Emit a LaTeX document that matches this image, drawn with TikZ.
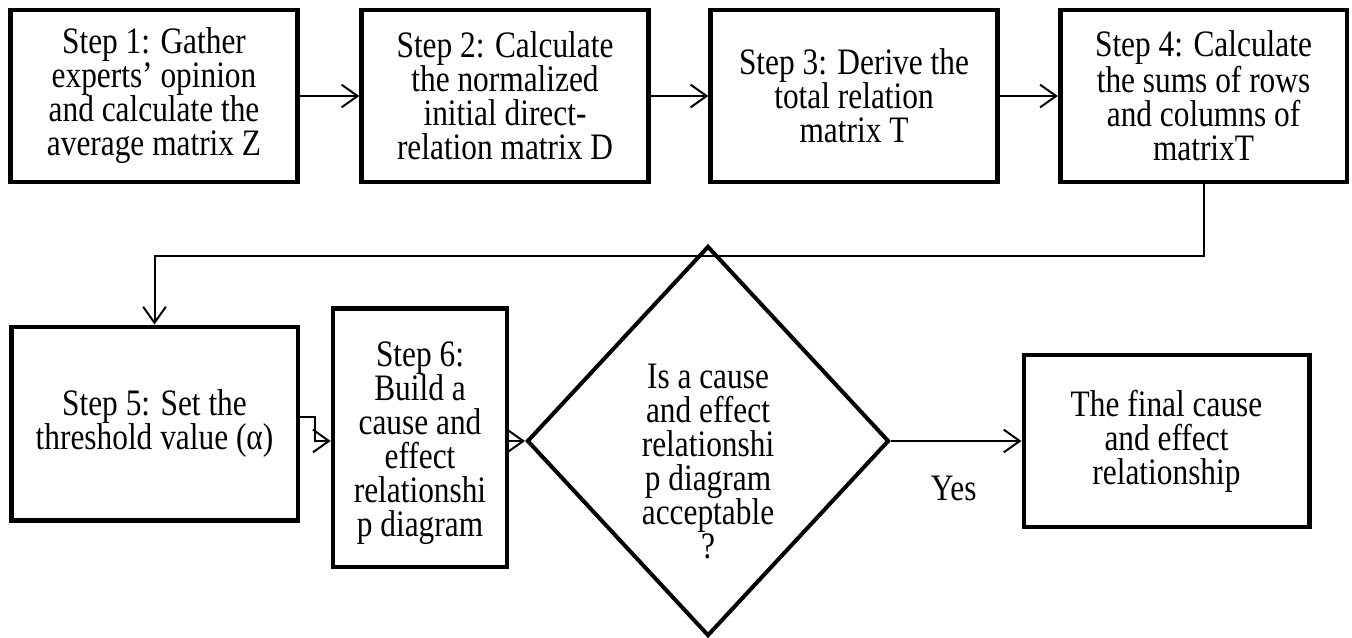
\documentclass[tikz,border=0pt]{standalone}
\usepackage{fontspec}
\setmainfont{Liberation Serif}[FakeStretch=0.84]
\usepackage{tikz}
\usetikzlibrary{shapes.geometric, arrows.meta, positioning, calc}

\begin{document}
\begin{tikzpicture}[x=0.75pt, y=-0.75pt, >={Straight Barb[length=12pt,width=17pt,line width=1.5pt]},
    every node/.style={align=center, font=\fontsize{28}{25.5}\selectfont},
    stepbox/.style={draw, line width=3.5pt, inner sep=0pt, minimum width=215pt, minimum height=129pt},
    decision/.style={draw, diamond, line width=3pt, inner sep=0pt, minimum width=271.5pt, minimum height=292.5pt},
    arr/.style={->, line width=1.5pt}]
    \useasboundingbox ({0},{0}) rectangle ({1352},{637});

    \node[stepbox] (s1) at ({154},{96}) {Step 1: Gather\\experts’ opinion\\and calculate the\\average matrix Z};
    \node[stepbox] (s2) at ({505},{96}) {Step 2: Calculate\\the normalized\\initial direct-\\relation matrix D};
    \node[stepbox] (s3) at ({854},{96}) {Step 3: Derive the\\total relation\\matrix T};
    \node[stepbox] (s4) at ({1203.5},{96}) {Step 4: Calculate\\the sums of rows\\and columns of\\matrixT};

    \node[stepbox, minimum height=145pt] (s5) at ({154.5},{423.5}) {Step 5: Set the\\threshold value (α)};
    \node[stepbox, minimum width=130.5pt, minimum height=194pt] (s6) at ({420},{437.5}) {};
    \node (s6text) at ({420},{443}) {Step 6:\\Build a\\cause and\\effect\\relationshi\\p diagram};
    \node[decision] (check) at ({708},{441}) {};
    \node (checktext) at ({708},{462}) {Is a cause\\and effect\\relationshi\\p diagram\\acceptable\\?};
    \node[stepbox, minimum width=214pt] (final) at ({1166.5},{441}) {The final cause\\and effect\\relationship};

    \coordinate (turn) at ({1203.5},{256});
    \coordinate (elbow) at ({315},{441});

    \draw[arr] (s1) -- (s2);
    \draw[arr] (s2) -- (s3);
    \draw[arr] (s3) -- (s4);
    \draw[arr] (s4.south) -- (turn) -| (s5.north);
    \draw[arr] ([yshift=5pt]s5.east) -| (elbow) -- (s6.west |- elbow);
    \draw[arr] (s6.east |- check.west) -- (check.west);
    \draw[arr] (check.east) -- (final.west) node[pos=0.48, below=22pt] (yes) {Yes};
\end{tikzpicture}
\end{document}
